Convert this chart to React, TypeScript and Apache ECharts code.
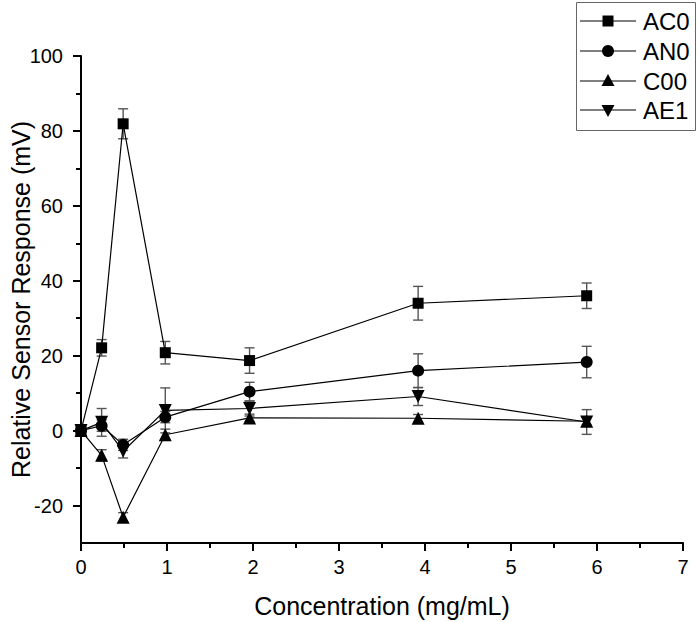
import React, { useEffect, useRef } from "react";
import * as echarts from "echarts";

const xValues = [0, 0.24, 0.49, 0.98, 1.96, 3.92, 5.88];
const seriesNames = ["AC0", "AN0", "C00", "AE1"];
const ac0 = [0, 22.1, 81.9, 20.8, 18.7, 34.0, 36.0];
const ac0Err = [0, 2.2, 4.0, 3.0, 3.4, 4.5, 3.4];
const an0 = [0, 1.3, -3.8, 3.6, 10.4, 16.0, 18.3];
const an0Err = [0, 1.5, 1.5, 1.5, 2.5, 4.5, 4.2];
const c00 = [0, -6.6, -23.1, -1.1, 3.4, 3.3, 2.5];
const c00Err = [0, 1.5, 1.2, 1.5, 1.0, 1.0, 1.0];
const ae1 = [0, 2.2, -5.5, 5.4, 5.9, 9.1, 2.3];
const ae1Err = [0, 3.7, 1.8, 6.0, 2.0, 2.4, 3.3];

const yMajorTicks = [-20, 0, 20, 40, 60, 80, 100];
const yMinorTicks = [-10, 10, 30, 50, 70, 90];

const FONT = "'Liberation Sans', Arial, sans-serif";

function legendMarker(kind: number, cx: number, cy: number) {
  const fill = { fill: "#000" };
  if (kind === 0) return { type: "rect", shape: { x: cx - 5.5, y: cy - 5.5, width: 11, height: 11 }, style: fill };
  if (kind === 1) return { type: "circle", shape: { cx, cy, r: 6 }, style: fill };
  if (kind === 2)
    return { type: "polygon", shape: { points: [[cx, cy - 7], [cx + 6.5, cy + 5], [cx - 6.5, cy + 5]] }, style: fill };
  return { type: "polygon", shape: { points: [[cx - 6.5, cy - 5], [cx + 6.5, cy - 5], [cx, cy + 7]] }, style: fill };
}

export default function App() {
  const ref = useRef<HTMLDivElement>(null);
  useEffect(() => {
    if (!ref.current) return;
    const chart = echarts.init(ref.current, null, { renderer: "svg" });
    const values = [ac0, an0, c00, ae1];
    const errs = [ac0Err, an0Err, c00Err, ae1Err];
    const symbols = ["rect", "circle", "triangle", "path://M0,0L2,0L1,1.732Z"];
    const sizes = [11, 12, 13, 13];

    const errSeries = values.map((vals, si) => ({
      type: "custom",
      name: seriesNames[si] + "_err",
      xAxisIndex: 0,
      yAxisIndex: 0,
      z: 1,
      data: xValues.map((x, i) => [x, vals[i] - errs[si][i], vals[i] + errs[si][i]]),
      renderItem: (params: any, api: any) => {
        const x = api.value(0);
        const p1 = api.coord([x, api.value(2)]);
        const p2 = api.coord([x, api.value(1)]);
        const hw = 5;
        const st = { stroke: "#555", lineWidth: 1.4 };
        return {
          type: "group",
          children: [
            { type: "line", shape: { x1: p1[0], y1: p1[1], x2: p2[0], y2: p2[1] }, style: st },
            { type: "line", shape: { x1: p1[0] - hw, y1: p1[1], x2: p1[0] + hw, y2: p1[1] }, style: st },
            { type: "line", shape: { x1: p2[0] - hw, y1: p2[1], x2: p2[0] + hw, y2: p2[1] }, style: st },
          ],
        };
      },
    }));

    const lineSeries = values.map((vals, si) => ({
      type: "line",
      name: seriesNames[si],
      xAxisIndex: 0,
      yAxisIndex: 0,
      z: 3,
      data: xValues.map((x, i) => [x, vals[i]]),
      symbol: symbols[si],
      symbolSize: sizes[si],
      showAllSymbol: true,
      lineStyle: { color: "#000", width: 1.2 },
      itemStyle: { color: "#000" },
    }));

    const rowY = [21, 51, 81, 110];
    const legendChildren: any[] = [
      { type: "rect", shape: { x: 576.5, y: 2.5, width: 119, height: 128 }, style: { fill: "#fff", stroke: "#666", lineWidth: 1 } },
    ];
    seriesNames.forEach((nm, i) => {
      const cy = rowY[i];
      legendChildren.push({ type: "line", shape: { x1: 580, y1: cy, x2: 636, y2: cy }, style: { stroke: "#000", lineWidth: 1.2 } });
      legendChildren.push(legendMarker(i, 608, cy));
      legendChildren.push({
        type: "text",
        x: 643,
        y: cy,
        style: { text: nm, font: `24px ${FONT}`, fill: "#000", textVerticalAlign: "middle", verticalAlign: "middle" },
      });
    });

    chart.setOption({
      animation: false,
      textStyle: { fontFamily: FONT },
      grid: { left: 81, right: 15, top: 56, bottom: 79, containLabel: false, outerBoundsMode: "none" },
      graphic: [{ type: "group", z: 10, children: legendChildren }],
      xAxis: {
        type: "value",
        min: 0,
        max: 7,
        interval: 1,
        name: "Concentration (mg/mL)",
        nameLocation: "middle",
        nameGap: 50,
        nameMoveOverlap: false,
        nameTextStyle: { fontSize: 25, color: "#000", fontFamily: FONT },
        axisLine: { onZero: false, lineStyle: { color: "#000", width: 2 } },
        axisTick: { show: true, inside: false, length: 8, lineStyle: { color: "#000", width: 2 } },
        minorTick: { show: true, splitNumber: 2, length: 5, lineStyle: { color: "#000", width: 2 } },
        axisLabel: { fontSize: 20, color: "#000", margin: 14, fontFamily: FONT },
        splitLine: { show: false },
      },
      yAxis: [
        {
          type: "value",
          min: -30,
          max: 100,
          interval: 10,
          name: "Relative Sensor Response (mV)",
          nameLocation: "middle",
          nameGap: 48,
          nameMoveOverlap: false,
          nameTextStyle: { fontSize: 25, color: "#000", fontFamily: FONT },
          axisLine: { show: true, onZero: false, lineStyle: { color: "#000", width: 2 } },
          axisTick: { show: true, inside: false, length: 8, customValues: yMajorTicks, lineStyle: { color: "#000", width: 2 } },
          axisLabel: { fontSize: 20, color: "#000", margin: 18, customValues: yMajorTicks, fontFamily: FONT },
          splitLine: { show: false },
        },
        {
          type: "value",
          min: -30,
          max: 100,
          interval: 10,
          position: "left",
          axisLine: { show: false, onZero: false },
          axisTick: { show: true, inside: false, length: 5, customValues: yMinorTicks, lineStyle: { color: "#000", width: 2 } },
          axisLabel: { show: false },
          splitLine: { show: false },
        },
      ],
      series: [...errSeries, ...lineSeries],
    });
    return () => chart.dispose();
  }, []);
  return (
    <div
      ref={ref}
      style={{ position: "fixed", left: 0, top: 0, width: 698, height: 622, background: "#fff" }}
    />
  );
}
